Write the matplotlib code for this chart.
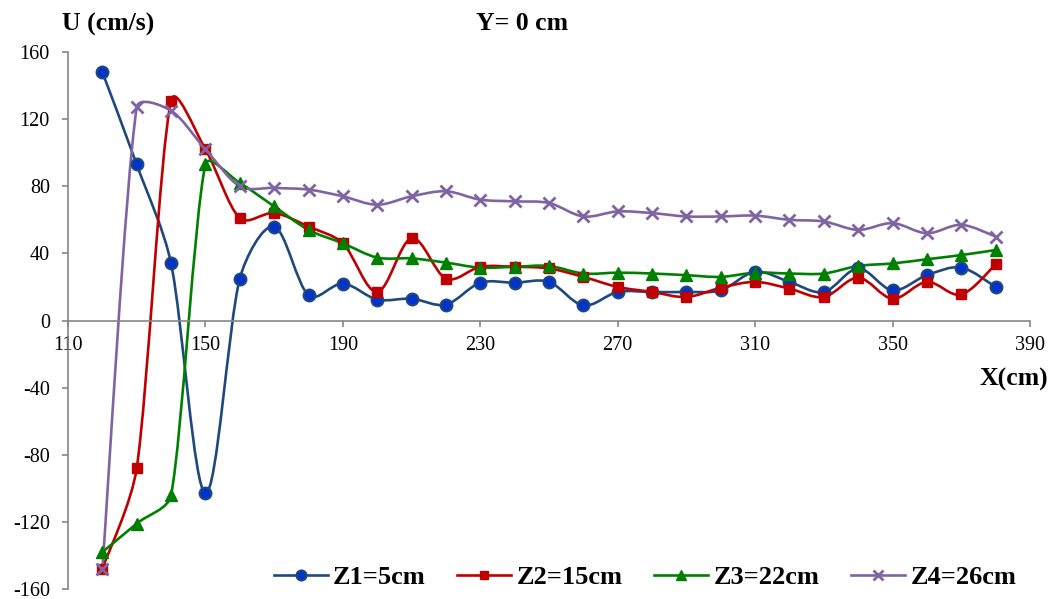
import numpy as np
import matplotlib
matplotlib.use("Agg")
import matplotlib.pyplot as plt
from matplotlib.path import Path
from matplotlib.patches import PathPatch
from matplotlib.lines import Line2D

plt.rcParams['font.family'] = ['Liberation Serif', 'DejaVu Serif']
plt.rcParams['axes.unicode_minus'] = False

# Data
x_cm = [120, 130, 140, 150, 160, 170, 180, 190, 200, 210, 220, 230, 240, 250,
        260, 270, 280, 290, 300, 310, 320, 330, 340, 350, 360, 370, 380]
z1 = [148, 93, 34, -103, 25, 56, 15, 22, 12.5, 13, 9.5, 22.5, 22.5, 23,
      9, 17, 17, 17, 18, 29, 23, 17, 31, 18, 27, 31.5, 20]
z2 = [-148, -88, 131, 102, 61, 64, 56, 46, 17, 49, 25, 32, 32, 31,
      26, 20, 17, 14, 19.5, 23, 19, 14, 25.5, 13, 23, 15.5, 33.5]
z3 = [-138, -121, -104, 93, 82, 68, 54, 46, 37.5, 37, 34.5, 31.5, 32, 32.5,
      28, 28.5, 28, 27, 26, 28.5, 28, 28, 32.5, 34, 36.5, 39, 42]
z4 = [-148, 127, 125, 102, 80, 79, 78, 74, 69, 74, 77, 72, 71, 70,
      62, 65, 64, 62, 62, 62.5, 60, 59, 54, 58, 52, 57, 50]
labels = ['Z1=5cm', 'Z2=15cm', 'Z3=22cm', 'Z4=26cm']

styles = [
    dict(color='#1F497D', marker='o', mfc='#0033CC', mec='#1F497D', ms=8.5, mew=1.5),
    dict(color='#C00000', marker='s', mfc='#C00000', mec='#C00000', ms=7, mew=1),
    dict(color='#008000', marker='^', mfc='#008000', mec='#008000', ms=8.5, mew=1),
    dict(color='#8064A2', marker='x', mfc='#8064A2', mec='#8064A2', ms=8, mew=2),
]


def smooth_path(ax, xs, ys):
    # smoothed line like Excel: Catmull-Rom handles in screen space,
    # each handle clipped to a third of its segment to avoid big overshoots
    pts = ax.transData.transform(np.column_stack([xs, ys]).astype(float))
    n = len(pts)
    verts = [pts[0]]
    codes = [Path.MOVETO]

    def handle(i, seg_len):
        h = (pts[min(i + 1, n - 1)] - pts[max(i - 1, 0)]) / 6.0
        ln = np.hypot(*h)
        lim = seg_len / 3.0
        if ln > lim:
            h = h * lim / ln
        return h

    for i in range(n - 1):
        p1, p2 = pts[i], pts[i + 1]
        seg = np.hypot(*(p2 - p1))
        c1 = p1 + handle(i, seg)
        c2 = p2 - handle(i + 1, seg)
        verts += [c1, c2, p2]
        codes += [Path.CURVE4] * 3
    verts = ax.transData.inverted().transform(np.array(verts))
    return Path(verts, codes)


fig = plt.figure(figsize=(10.54, 5.99), dpi=100)
ax = fig.add_axes([68 / 1054, 10 / 599, 962 / 1054, 537 / 599])
ax.set_xlim(110, 390)
ax.set_ylim(-160, 160)

handles = []
for ys, st, lab in zip([z1, z2, z3, z4], styles, labels):
    patch = PathPatch(smooth_path(ax, x_cm, ys), fill=False, edgecolor=st['color'],
                      lw=1.9, zorder=2)
    ax.add_patch(patch)
    ax.plot(x_cm, ys, ls='none', marker=st['marker'], mfc=st['mfc'], mec=st['mec'],
            ms=st['ms'], mew=st['mew'], zorder=3)
    handles.append(Line2D([], [], color=st['color'], lw=1.9, marker=st['marker'],
                          mfc=st['mfc'], mec=st['mec'], ms=st['ms'] * 0.85,
                          mew=st['mew'], label=lab))

ax.set_xticks(np.arange(110, 391, 40))
ax.set_yticks(np.arange(-160, 161, 40))

axis_grey = '#868686'
ax.spines['top'].set_visible(False)
ax.spines['right'].set_visible(False)
ax.spines['bottom'].set_position(('data', 0))
for s in ['left', 'bottom']:
    ax.spines[s].set_color(axis_grey)
    ax.spines[s].set_linewidth(1.2)
ax.tick_params(axis='both', colors=axis_grey, labelcolor='black', labelsize=14.5,
               length=4, width=1.2, direction='out')
ax.tick_params(axis='y', pad=9)
ax.tick_params(axis='x', pad=7)
ax.patch.set_alpha(0)

fig.text(62 / 1054, 1 - 24 / 599, 'U (cm/s)', fontsize=18.5, fontweight='bold',
         ha='left', va='center')
fig.text(522 / 1054, 1 - 24 / 599, 'Y= 0 cm', fontsize=18.5, fontweight='bold',
         ha='center', va='center')
fig.text(1048 / 1054, 1 - 379 / 599, 'X(cm)', fontsize=18.5, fontweight='bold',
         ha='right', va='center')

fig.legend(handles=handles, loc='center', bbox_to_anchor=(645 / 1054, 1 - 577 / 599),
           ncol=4, frameon=False, prop={'weight': 'bold', 'size': 19},
           handlelength=2.05, columnspacing=1.2, handletextpad=0.2,
           borderaxespad=0, borderpad=0)

fig.savefig('out.png', dpi=100)
